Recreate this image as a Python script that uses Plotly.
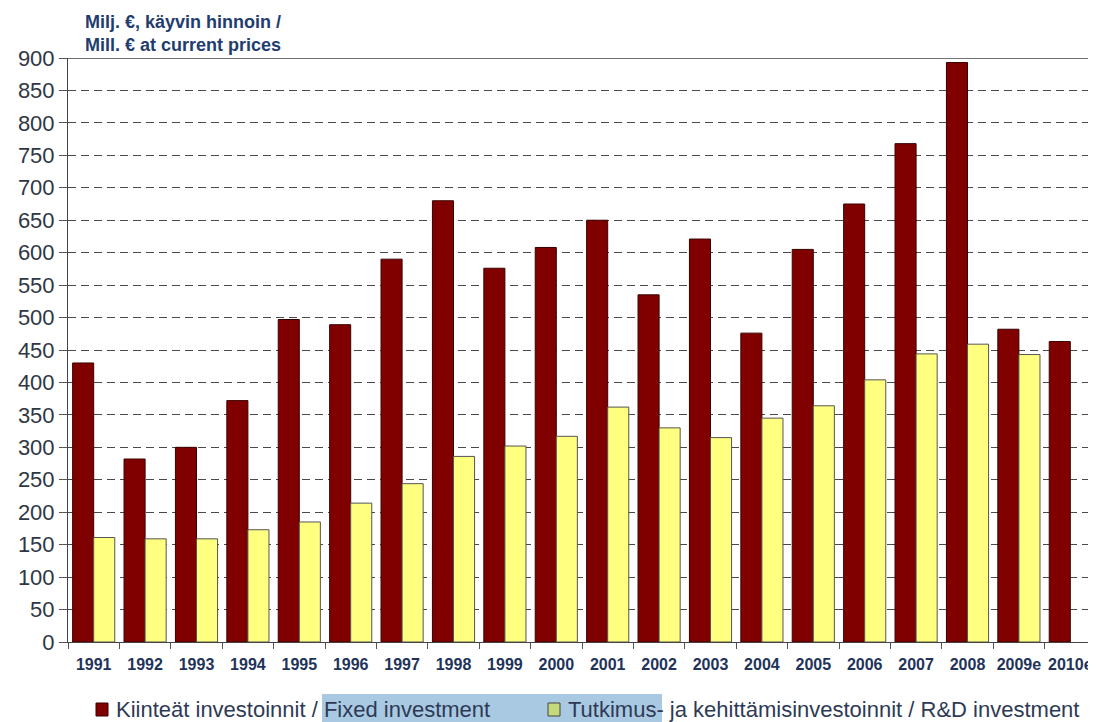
import plotly.graph_objects as go

years = ["1991", "1992", "1993", "1994", "1995", "1996", "1997", "1998", "1999", "2000",
         "2001", "2002", "2003", "2004", "2005", "2006", "2007", "2008", "2009e", "2010e"]
fixed_investment = [430, 282, 300, 372, 497, 489, 590, 680, 576, 608,
                    650, 535, 621, 476, 605, 675, 768, 893, 482, 463]
rd_investment = [161, 159, 159, 173, 185, 214, 244, 286, 302, 317,
                 362, 330, 315, 345, 364, 404, 444, 459, 443, None]
y_ticks = list(range(0, 901, 50))
legend_fixed = "Kiinteät investoinnit / Fixed investment"
legend_rd = "Tutkimus- ja kehittämisinvestoinnit / R&D investment"

# page body has an 8px margin; figure is placed at (8, 8)
W, H = 1088, 714
L, T, R, B = 60, 50, 0, 80
PW = W - L - R  # plot width in px
PH = H - T - B  # plot height in px


def px_x(page_x):
    return (page_x - 8 - L) / PW


def px_y(page_y):
    return (H - B - (page_y - 8)) / PH


fig = go.Figure()
fig.add_trace(go.Bar(
    x=years, y=fixed_investment, name=legend_fixed,
    marker=dict(color="#800000", line=dict(color="#3a0000", width=1)),
))
fig.add_trace(go.Bar(
    x=years, y=rd_investment, name=legend_rd,
    marker=dict(color="#FFFF80", line=dict(color="#555555", width=1)),
))

legend_font = dict(size=22, color="#2e3a55", family="Liberation Sans, Arial, sans-serif")

fig.update_layout(
    width=W, height=H,
    margin=dict(l=L, r=R, t=T, b=B, autoexpand=False),
    paper_bgcolor="white", plot_bgcolor="white",
    barmode="group", bargap=0.18, bargroupgap=0.0,
    font=dict(family="Liberation Sans, Arial, sans-serif", color="#222222"),
    showlegend=False,
    xaxis=dict(
        type="category", range=[-0.5, 19.5], showline=True, linecolor="#444444", linewidth=1,
        ticks="outside", tickson="boundaries", ticklen=6, tickcolor="#555555",
        tickangle=0, ticklabelstandoff=8,
        tickfont=dict(size=16, color="#22335a", family="Liberation Sans, Arial, sans-serif", weight="bold"),
        showgrid=False, automargin=False,
    ),
    yaxis=dict(
        range=[0, 900], tickvals=y_ticks, showline=True, linecolor="#444444", linewidth=1,
        ticks="outside", ticklen=8, tickcolor="#555555",
        tickfont=dict(size=22, color="#2f3745"),
        showgrid=True, gridcolor="#4a4a4a", gridwidth=1, griddash="8px,5px",
        zeroline=False, automargin=False,
    ),
    shapes=[
        dict(type="line", xref="paper", yref="y", x0=0, x1=1, y0=900, y1=900,
             line=dict(color="#444444", width=1.5)),
        dict(type="rect", xref="paper", yref="paper", x0=px_x(322), x1=px_x(662),
             y0=px_y(722), y1=px_y(694), fillcolor="#a9c9e2", line=dict(width=0), layer="below"),
        dict(type="rect", xref="paper", yref="paper", x0=px_x(96), x1=px_x(108),
             y0=px_y(716), y1=px_y(703), fillcolor="#800000", line=dict(color="#3a0000", width=1)),
        dict(type="rect", xref="paper", yref="paper", x0=px_x(548), x1=px_x(560),
             y0=px_y(716), y1=px_y(703), fillcolor="#c3d97a", line=dict(color="#444444", width=1)),
    ],
    annotations=[
        dict(text="<b>Milj. €, käyvin hinnoin /<br>Mill. € at current prices</b>",
             xref="paper", yref="paper", x=px_x(83), y=1.0, xanchor="left", yanchor="bottom",
             align="left", showarrow=False, yshift=1,
             font=dict(size=18, color="#1f3d6e", family="Liberation Sans, Arial, sans-serif")),
        dict(text=legend_fixed, xref="paper", yref="paper", x=px_x(114), y=px_y(709.5),
             xanchor="left", yanchor="middle", showarrow=False, font=legend_font),
        dict(text=legend_rd, xref="paper", yref="paper", x=px_x(566), y=px_y(709.5),
             xanchor="left", yanchor="middle", showarrow=False, font=legend_font),
    ],
)

fig.write_html("out.html")
